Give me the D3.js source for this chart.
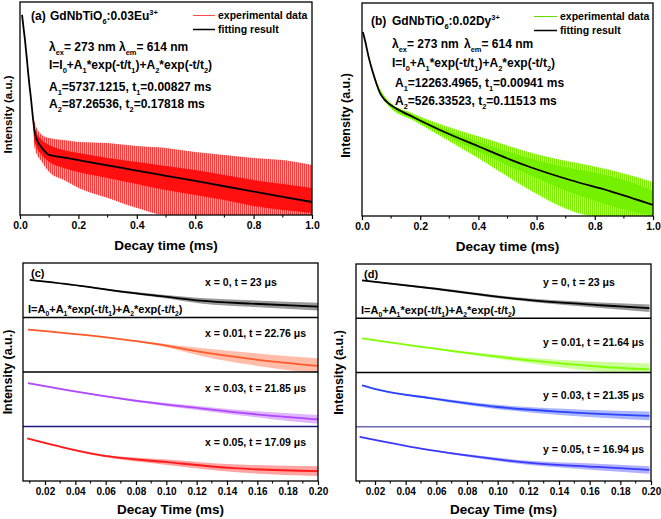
<!DOCTYPE html>
<html><head><meta charset="utf-8">
<script src="https://cdn.jsdelivr.net/npm/d3@7"></script>
<style>
body{margin:0;background:#fff}
svg{display:block}
text{font-family:"Liberation Sans",Arial,Helvetica,sans-serif;font-weight:bold;fill:#000}
</style>
</head><body>
<svg id="chart" width="661" height="519"></svg>
<script>
// ---------------- DATA ----------------
// Panel (a): normalized intensity (a.u.) vs decay time (ms)
const fitA = [[0.007,0.94],[0.012,0.88],[0.017,0.822],[0.023,0.74],[0.028,0.667],[0.033,0.60],[0.037,0.554],[0.041,0.50],[0.045,0.446],[0.051,0.385],[0.06,0.347],[0.075,0.315],[0.1,0.282],[0.15,0.27],[0.2,0.258],[0.3,0.233],[0.4,0.208],[0.5,0.184],[0.6,0.160],[0.7,0.135],[0.8,0.110],[0.9,0.085],[1.0,0.061]];
// experimental data envelope: [t, outerHigh, innerHigh, innerLow, outerLow]
const bandA = [[0.045,0.47,0.46,0.43,0.42],[0.05,0.437,0.408,0.343,0.315],[0.075,0.376,0.352,0.282,0.249],[0.1,0.362,0.329,0.249,0.202],[0.15,0.352,0.305,0.221,0.164],[0.2,0.343,0.291,0.202,0.127],[0.3,0.338,0.268,0.174,0.080],[0.4,0.324,0.249,0.146,0.033],[0.5,0.315,0.230,0.117,0],[0.6,0.296,0.211,0.094,0],[0.7,0.282,0.188,0.070,0],[0.8,0.268,0.164,0.042,0],[0.9,0.258,0.146,0.023,0],[1.0,0.235,0.127,0.009,0]];
// Panel (b)
const fitB = [[0.003,0.864],[0.010,0.826],[0.024,0.74],[0.038,0.671],[0.05,0.62],[0.062,0.577],[0.075,0.55],[0.089,0.531],[0.12,0.503],[0.175,0.465],[0.268,0.404],[0.405,0.324],[0.5,0.27],[0.577,0.230],[0.715,0.169],[0.852,0.117],[1.0,0.052]];
const bandB = [[0.02,0.77,0.767,0.753,0.75],[0.04,0.671,0.668,0.654,0.651],[0.09,0.542,0.538,0.522,0.518],[0.175,0.481,0.475,0.455,0.449],[0.27,0.431,0.417,0.389,0.375],[0.4,0.374,0.35,0.304,0.271],[0.5,0.331,0.303,0.237,0.185],[0.6,0.29,0.262,0.178,0.103],[0.7,0.259,0.23,0.118,0.034],[0.8,0.232,0.204,0.072,0],[0.9,0.2,0.17,0.03,0],[1.0,0.16,0.12,0.0,0]];
const topTicks = [0.0,0.2,0.4,0.6,0.8,1.0];

// Panel (c): stacked decays (x = Eu content), [t (ms), normalized intensity] and scatter half-width
const cLabels = ["x = 0, t = 23 μs","x = 0.01, t = 22.76 μs","x = 0.03, t = 21.85 μs","x = 0.05, t = 17.09 μs"];
const cCurves = [
  [[0.010,0.691],[0.0432,0.582],[0.0762,0.455],[0.0993,0.382],[0.1225,0.309],[0.1555,0.255],[0.2,0.2]],
  [[0.0088,0.778],[0.0564,0.648],[0.1007,0.481],[0.1225,0.37],[0.1555,0.241],[0.2,0.111]],
  [[0.0088,0.796],[0.0346,0.667],[0.078,0.481],[0.1225,0.333],[0.1668,0.204],[0.2,0.13]],
  [[0.0082,0.782],[0.03,0.63],[0.0564,0.473],[0.1007,0.345],[0.1443,0.236],[0.2,0.182]]
];
const cSpread = [[0.01,0.01,0.02,0.03,0.05,0.06,0.07],[0.01,0.01,0.03,0.07,0.11,0.14],[0.01,0.01,0.02,0.04,0.06,0.08],[0.01,0.01,0.02,0.05,0.07,0.09]];
// Panel (d): stacked decays (y = Dy content)
const dLabels = ["y = 0, t = 23 μs","y = 0.01, t = 21.64 μs","y = 0.03, t = 21.35 μs","y = 0.05, t = 16.94 μs"];
const dCurves = [
  [[0.0115,0.70],[0.0559,0.556],[0.121,0.333],[0.167,0.24],[0.199,0.185]],
  [[0.0115,0.63],[0.0774,0.37],[0.121,0.222],[0.165,0.111],[0.199,0.056]],
  [[0.0115,0.764],[0.0233,0.673],[0.056,0.527],[0.1,0.364],[0.1426,0.273],[0.199,0.2]],
  [[0.01,0.815],[0.056,0.57],[0.0774,0.481],[0.121,0.333],[0.165,0.259],[0.199,0.204]]
];
const dSpread = [[0.01,0.02,0.03,0.05,0.07],[0.01,0.02,0.05,0.09,0.11],[0.01,0.01,0.02,0.04,0.06,0.08],[0.01,0.01,0.02,0.04,0.06,0.07]];
const bottomTicks = [0.02,0.04,0.06,0.08,0.10,0.12,0.14,0.16,0.18,0.20];

// ---------------- DRAWING ----------------
const svg = d3.select("#chart");
const defs = svg.append("defs");

function stripes(id, c1, c2){
  const p = defs.append("pattern").attr("id",id).attr("patternUnits","userSpaceOnUse").attr("width",2).attr("height",4);
  p.append("rect").attr("width",2).attr("height",4).attr("fill",c2);
  p.append("rect").attr("width",1).attr("height",4).attr("fill",c1);
}
stripes("stripeRed","#ff3a3a","#ffa8a8");
stripes("stripeGreen","#7af000","#c6ff90");

function rich(g, x, y, s, size, anchor){
  const t = g.append("text").attr("x",x).attr("y",y).attr("font-size",size).attr("text-anchor",anchor||"start");
  const parts = s.split(/(_\{[^}]*\}|\^\{[^}]*\})/).filter(p=>p.length);
  let cur = 0;
  parts.forEach(p=>{
    let txt=p, off=0, fs=size;
    if(p.startsWith("_{")){txt=p.slice(2,-1); off=size*0.3; fs=size*0.62;}
    else if(p.startsWith("^{")){txt=p.slice(2,-1); off=-size*0.42; fs=size*0.62;}
    t.append("tspan").attr("dy",off-cur).attr("font-size",fs).text(txt);
    cur = off;
  });
  return t;
}
let clipId = 0;
function clip(box){
  const id = "clip"+(clipId++);
  defs.append("clipPath").attr("id",id).append("rect")
    .attr("x",box.x0).attr("y",box.y0).attr("width",box.x1-box.x0).attr("height",box.y1-box.y0);
  return "url(#"+id+")";
}

function topPanel(box, fit, band, outerFill, innerCol, opts){
  const x = d3.scaleLinear().domain([0,1]).range([box.x0,box.x1]);
  const y = d3.scaleLinear().domain([0,1]).range([box.y1,box.y0]);
  const g = svg.append("g");
  const plot = g.append("g").attr("clip-path",clip(box));
  const areaOuter = d3.area().x(d=>x(d[0])).y0(d=>y(d[4])).y1(d=>y(d[1])).curve(d3.curveMonotoneX);
  const areaInner = d3.area().x(d=>x(d[0])).y0(d=>y(d[3])).y1(d=>y(d[2])).curve(d3.curveMonotoneX);
  plot.append("path").attr("d",areaOuter(band)).attr("fill",outerFill);
  plot.append("path").attr("d",areaInner(band)).attr("fill",innerCol);
  plot.append("path").attr("d",d3.line().x(d=>x(d[0])).y(d=>y(d[1])).curve(d3.curveMonotoneX)(fit))
    .attr("fill","none").attr("stroke","#000").attr("stroke-width",1.8);
  g.append("rect").attr("x",box.x0).attr("y",box.y0).attr("width",box.x1-box.x0).attr("height",box.y1-box.y0)
    .attr("fill","none").attr("stroke","#000").attr("stroke-width",1.3);
  const ax = g.append("g").attr("transform",`translate(0,${box.y1})`)
    .call(d3.axisBottom(x).tickValues(topTicks).tickFormat(d3.format(".1f")).tickSize(4).tickPadding(3));
  ax.select(".domain").remove();
  ax.selectAll("text").attr("font-size",10.5).attr("font-family",null);
  ax.selectAll("line").attr("stroke-width",1.2);
  const minor = d3.range(0.1,1,0.2);
  g.selectAll(null).data(minor).enter().append("line")
    .attr("x1",d=>x(d)).attr("x2",d=>x(d)).attr("y1",box.y1).attr("y2",box.y1+2.5).attr("stroke","#000").attr("stroke-width",1.1);
  g.append("text").attr("x",(box.x0+box.x1)/2).attr("y",box.y1+35).attr("text-anchor","middle").attr("font-size",13.5).text("Decay time (ms)");
  g.append("text").attr("transform",`translate(${opts.ylx},${(box.y0+box.y1)/2+6}) rotate(-90)`).attr("text-anchor","middle").attr("font-size",opts.ylSize).text("Intensity (a.u.)");
  return {x,y,g};
}

// Panel (a)
const A = {x0:20,x1:312,y0:2,y1:215};
const pa = topPanel(A, fitA, bandA, "url(#stripeRed)", "#ff1010", {ylx:12, ylSize:11.5});
rich(pa.g, 31, 20, "(a)", 12);
rich(pa.g, 50, 20, "GdNbTiO_{6}:0.03Eu^{3+}", 12);
pa.g.append("line").attr("x1",193).attr("x2",215).attr("y1",15.5).attr("y2",15.5).attr("stroke","#ff4a4a").attr("stroke-width",1);
pa.g.append("line").attr("x1",193).attr("x2",215).attr("y1",29.5).attr("y2",29.5).attr("stroke","#000").attr("stroke-width",1.5);
rich(pa.g, 218, 19, "experimental data", 10.5);
rich(pa.g, 218, 33, "fitting result", 10.5);
rich(pa.g, 49, 51, "λ_{ex}= 273 nm", 12);
rich(pa.g, 119, 51, "λ_{em}= 614 nm", 12);
rich(pa.g, 49, 69, "I=I_{0}+A_{1}*exp(-t/t_{1})+A_{2}*exp(-t/t_{2})", 12);
rich(pa.g, 49, 91, "A_{1}=5737.1215, t_{1}=0.00827 ms", 12);
rich(pa.g, 49, 108, "A_{2}=87.26536, t_{2}=0.17818 ms", 12);

// Panel (b)
const B = {x0:362,x1:653,y0:3,y1:216};
const pb = topPanel(B, fitB, bandB, "url(#stripeGreen)", "#74f000", {ylx:350, ylSize:12.5});
rich(pb.g, 371, 25, "(b)", 12);
rich(pb.g, 392, 25, "GdNbTiO_{6}:0.02Dy^{3+}", 12);
pb.g.append("line").attr("x1",534).attr("x2",557).attr("y1",16.5).attr("y2",16.5).attr("stroke","#60e000").attr("stroke-width",1);
pb.g.append("line").attr("x1",534).attr("x2",557).attr("y1",30.5).attr("y2",30.5).attr("stroke","#000").attr("stroke-width",1.5);
rich(pb.g, 560, 20, "experimental data", 10.5);
rich(pb.g, 560, 34, "fitting result", 10.5);
rich(pb.g, 392, 48, "λ_{ex}= 273 nm", 12);
rich(pb.g, 464, 48, "λ_{em}= 614 nm", 12);
rich(pb.g, 392, 67, "I=I_{0}+A_{1}*exp(-t/t_{1})+A_{2}*exp(-t/t_{2})", 12);
rich(pb.g, 395, 87, "A_{1}=12263.4965, t_{1}=0.00941 ms", 12);
rich(pb.g, 395, 105, "A_{2}=526.33523, t_{2}=0.11513 ms", 12);

function stackPanel(box, domain, curves, spreads, labels, colors, sepColors, letter, labelX, labelYs, ylx){
  const x = d3.scaleLinear().domain(domain).range([box.x0,box.x1]);
  const g = svg.append("g");
  const h = (box.y1-box.y0)/4;
  curves.forEach((c,i)=>{
    const sb = {x0:box.x0,x1:box.x1,y0:box.y0+i*h,y1:box.y0+(i+1)*h};
    const y = d3.scaleLinear().domain([0,1]).range([sb.y1,sb.y0]);
    const pl = g.append("g").attr("clip-path",clip(sb));
    const sp = spreads[i];
    const rows = c.map((d,k)=>[d[0],d[1],sp[k]]);
    pl.append("path").attr("d",d3.area().x(d=>x(d[0])).y0(d=>y(d[1]-d[2])).y1(d=>y(d[1]+d[2])).curve(d3.curveMonotoneX)(rows))
      .attr("fill",colors[i]).attr("opacity",0.4);
    pl.append("path").attr("d",d3.line().x(d=>x(d[0])).y(d=>y(d[1])).curve(d3.curveMonotoneX)(c))
      .attr("fill","none").attr("stroke",colors[i]).attr("stroke-width",1.8);
    rich(g, labelX, labelYs[i], labels[i], 10.5);
    if(i<3){
      g.append("line").attr("x1",box.x0).attr("x2",box.x1).attr("y1",sb.y1).attr("y2",sb.y1).attr("stroke",sepColors[i]).attr("stroke-width",1.3);
    }
  });
  g.append("rect").attr("x",box.x0).attr("y",box.y0).attr("width",box.x1-box.x0).attr("height",box.y1-box.y0)
    .attr("fill","none").attr("stroke","#000").attr("stroke-width",1.3);
  const ax = g.append("g").attr("transform",`translate(0,${box.y1})`)
    .call(d3.axisBottom(x).tickValues(bottomTicks).tickFormat(d3.format(".2f")).tickSize(4).tickPadding(3));
  ax.select(".domain").remove();
  ax.selectAll("text").attr("font-size",10).attr("font-family",null);
  ax.selectAll("line").attr("stroke-width",1.2);
  const minor = d3.range(0.01,0.2,0.02);
  g.selectAll(null).data(minor).enter().append("line")
    .attr("x1",d=>x(d)).attr("x2",d=>x(d)).attr("y1",box.y1).attr("y2",box.y1+2.5).attr("stroke","#000").attr("stroke-width",1.1);
  rich(g, box.x0+8, box.y0+14, letter, 11);
  rich(g, box.x0+5, box.y0+50, "I=A_{0}+A_{1}*exp(-t/t_{1})+A_{2}*exp(-t/t_{2})", 11);
  g.append("text").attr("x",(box.x0+box.x1)/2).attr("y",box.y1+33).attr("text-anchor","middle").attr("font-size",13.5).text("Decay Time (ms)");
  g.append("text").attr("transform",`translate(${ylx},${(box.y0+box.y1)/2}) rotate(-90)`).attr("text-anchor","middle").attr("font-size",12.5).text("Intensity (a.u.)");
}

stackPanel({x0:23,x1:318,y0:263,y1:481},[0.0055,0.2],cCurves,cSpread,cLabels,
  ["#000000","#ff5a2a","#b048ff","#ff1a1a"],["#000","#000","#1a1a80"],"(c)",205,[286,337,392,446],12);
stackPanel({x0:356,x1:651,y0:264,y1:481},[0.0076,0.2],dCurves,dSpread,dLabels,
  ["#000000","#80ff00","#2b44ff","#3a3aff"],["#000","#000","#6a6ab8"],"(d)",543,[286,346,399,453],343);
</script>
</body></html>
